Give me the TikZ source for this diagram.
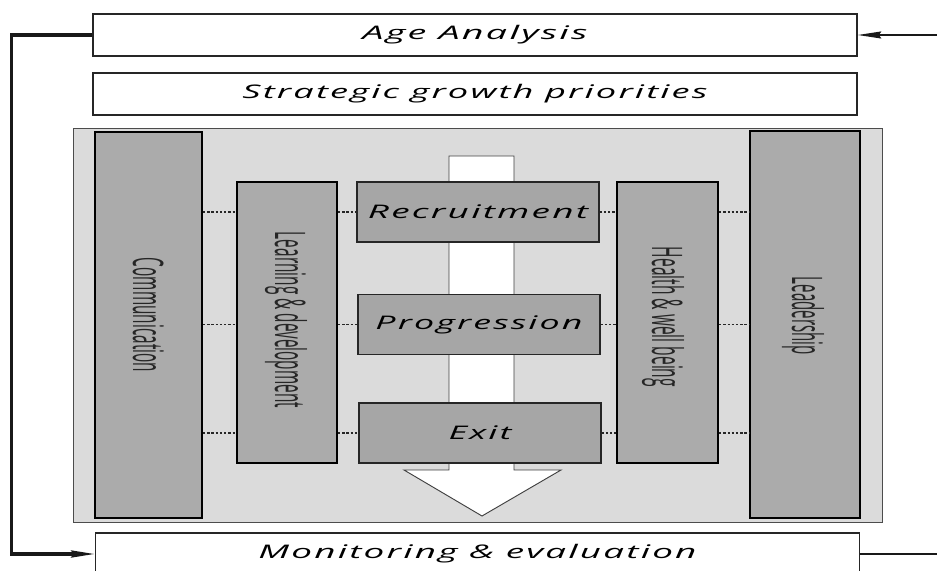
\documentclass[tikz,border=0pt]{standalone}
\usepackage{fontspec}
\usepackage{graphicx}
\setmainfont{Open Sans}
\newfontfamily\bannerfont[LetterSpace=6]{Open Sans}
\usetikzlibrary{arrows.meta}

% stretch a label to a given width, keeping its height
\newcommand{\stretchto}[2]{\resizebox{#1}{\height}{#2}}

\tikzset{
	banner/.style={draw=black!85, line width=1.4pt, fill=white,
			minimum width=22.92cm, minimum height=1.26cm,
			font=\bannerfont\itshape\fontsize{16}{18}\selectfont},
	pillar/.style={draw=black, line width=1.8pt, fill=black!33},
	pillartext/.style={rotate=-90, anchor=base, inner sep=0pt,
			font=\fontsize{36}{36}\selectfont, text=black!85},
	stage/.style={draw=black!85, line width=1.2pt, fill=black!35,
			minimum width=7.26cm, minimum height=1.8cm,
			font=\bannerfont\itshape\fontsize{16}{18}\selectfont},
	dotline/.style={black!85, line width=0.9pt, dash pattern=on 2pt off 1.6pt},
	flow/.style={black!90, line width=2.6pt, -{Stealth[length=20pt, width=6pt, inset=2pt]}}
}

\begin{document}
\begin{tikzpicture}[x=0.03cm, y=-0.03cm]
		\useasboundingbox (0,0) rectangle (937,571);

		% top banners
		\node[banner] (age) at (475,35) {\stretchto{6.75cm}{Age Analysis}};
		\node[banner] (strat) at (475,94) {\stretchto{13.95cm}{Strategic growth priorities}};

		% grey panel that holds the pillars
		\node[draw=black!70, line width=0.8pt, fill=black!14,
			minimum width=24.27cm, minimum height=11.82cm] (panel) at (477.5,325) {};

		% white arrow running down through the stages
		\draw[black!75, line width=0.8pt, fill=white]
		(449,156) -- (514,156) -- (514,470) -- (561,470) -- (482,516)
		-- (404,470) -- (449,470) -- cycle;

		% pillars
		\node[pillar, minimum width=3.21cm, minimum height=11.58cm] (comm) at (148.5,325) {};
		\node[pillar, minimum width=3.0cm, minimum height=8.43cm] (learn) at (287,322.5) {};
		\node[pillar, minimum width=3.03cm, minimum height=8.43cm] (health) at (667.5,322.5) {};
		\node[pillar, minimum width=3.3cm, minimum height=11.61cm] (lead) at (805,324.5) {};

		\node[pillartext] (commtext) at (133,315) {\stretchto{3.42cm}{Communication}};
		\node[pillartext] (learntext) at (275,320) {\stretchto{5.28cm}{Learning \& development}};
		\node[pillartext] (healthtext) at (652,317) {\stretchto{4.2cm}{Health \& well being}};
		\node[pillartext] (leadtext) at (792,316) {\stretchto{2.34cm}{Leadership}};

		% stages
		\node[stage] (recruit) at (478,212) {\stretchto{6.6cm}{Recruitment}};
		\node[stage] (prog) at (479,324.5) {\stretchto{6.21cm}{Progression}};
		\node[stage] (exit) at (480,433) {\stretchto{1.89cm}{Exit}};

		% dotted links from each stage across the pillars
		\foreach \s in {recruit, prog, exit} {
				\draw[dotline] (comm.east |- \s) -- (learn.west |- \s);
				\draw[dotline] (learn.east |- \s) -- (\s.west);
				\draw[dotline] (\s.east) -- (health.west |- \s);
				\draw[dotline] (health.east |- \s) -- (lead.west |- \s);
			}

		% bottom banner
		\node[banner] (monitor) at (477.5,554) {\stretchto{13.14cm}{Monitoring \& evaluation}};

		% feedback loop
		\draw[flow] (age.west) -- ++(-81,0) |- (monitor.west);
		\coordinate (rin) at (940,35);
		\draw[flow, line width=1.2pt] (rin) -- (age.east);
		\draw[black!90, line width=1.2pt] (monitor.east) -- ++(85,0);

	\end{tikzpicture}
\end{document}
